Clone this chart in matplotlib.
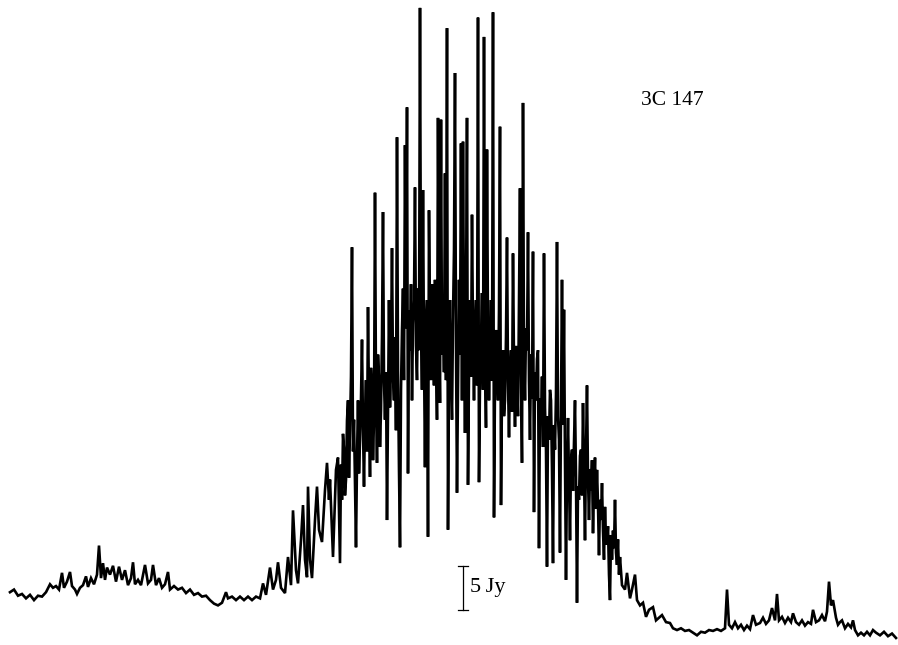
import numpy as np
import matplotlib
matplotlib.use("Agg")
import matplotlib.pyplot as plt

# drift scan of 3C 147
# t : time along the scan (arbitrary units), flux : deflection in Jy

# rising side, before the fringes get large
t_left = [10, 14, 18, 22, 26, 30, 34, 38, 42, 46, 50, 53, 56, 59, 62, 64, 67, 70, 72, 75,
          77, 80, 83, 86, 88, 91, 94, 97, 99, 101, 103, 105, 107, 110, 113, 116, 119, 122, 125, 128,
          131, 133, 135, 138, 141, 145, 148, 151, 153, 156, 159, 162, 165, 168, 170, 174, 178, 182, 186, 190,
          194, 198, 202, 206, 210, 214, 218, 222, 226, 228, 232, 236, 240, 244, 248, 252, 256, 260, 263, 266,
          270, 273, 276, 278, 281, 285, 288, 291, 293, 296, 298, 301, 303, 305, 307, 308, 310, 312, 315, 317,
          319, 322, 325, 327, 329, 330, 332, 333, 335, 336, 338]
flux_left = [6.0, 6.3, 5.6, 5.8, 5.3, 5.7, 5.1, 5.6, 5.5, 6.0, 6.9, 6.5, 6.7, 6.3, 8.2, 6.5, 7.2, 8.3, 6.7, 6.3,
             5.8, 6.5, 6.8, 7.8, 6.6, 7.6, 6.9, 8.0, 11.3, 7.6, 9.3, 7.4, 8.8, 8.0, 9.0, 7.2, 8.9, 7.4, 8.5, 6.8,
             7.6, 9.4, 6.9, 7.4, 6.8, 9.1, 7.0, 7.4, 9.1, 6.8, 7.6, 6.5, 6.9, 8.3, 6.3, 6.7, 6.3, 6.5, 5.9, 6.3,
             5.7, 5.9, 5.5, 5.6, 5.1, 4.7, 4.5, 4.8, 6.0, 5.3, 5.5, 5.1, 5.5, 5.1, 5.5, 5.1, 5.5, 5.3, 7.0, 5.7,
             8.8, 6.3, 7.4, 9.4, 6.5, 5.9, 10.0, 6.8, 15.3, 8.5, 7.0, 11.9, 15.9, 9.7, 7.7, 18.0, 9.7, 7.6, 14.2, 18.0,
             13.1, 11.7, 17.6, 20.7, 16.5, 18.8, 13.1, 10.0, 16.5, 19.9, 21.3]

# main lobe, one reading per time step
t_core = list(range(340, 621))
flux_core = [9.3, 20.5, 16.5, 24.0, 22.2, 17.0, 18.8, 25.5, 27.8, 19.0,
             24.4, 30.5, 45.2, 22.0, 25.6, 18.5, 11.1, 21.0, 27.8, 19.5,
             23.3, 28.0, 34.7, 24.5, 18.0, 26.0, 30.1, 22.0, 38.4, 27.0,
             19.1, 31.5, 29.0, 21.0, 25.6, 51.4, 28.5, 20.7, 33.0, 30.1,
             22.5, 26.7, 35.0, 49.2, 30.0, 25.6, 31.0, 14.2, 27.0, 39.2,
             27.0, 33.0, 45.1, 30.5, 27.8, 35.0, 24.4, 57.7, 31.0, 19.9,
             11.1, 29.0, 35.8, 40.5, 30.1, 56.8, 36.0, 61.1, 19.5, 38.0,
             33.5, 41.0, 27.8, 36.5, 39.2, 52.0, 34.0, 30.1, 40.5, 33.5,
             72.4, 37.0, 29.0, 51.7, 33.0, 20.2, 36.0, 39.2, 12.3, 49.4,
             35.5, 30.1, 41.0, 35.8, 29.5, 41.5, 34.0, 25.6, 59.9, 36.5,
             27.5, 59.7, 33.0, 39.2, 31.0, 53.6, 30.1, 70.1, 13.1, 33.0,
             39.2, 30.5, 25.6, 37.0, 44.9, 65.0, 34.0, 17.3, 30.0, 41.5,
             33.0, 57.0, 27.8, 57.2, 36.0, 24.1, 38.5, 59.9, 18.2, 31.0,
             39.2, 30.5, 48.9, 35.0, 27.8, 36.0, 39.2, 29.5, 71.3, 18.5,
             30.0, 34.7, 40.0, 29.0, 69.1, 33.0, 24.7, 56.3, 35.0, 27.8,
             33.5, 39.2, 30.0, 71.9, 14.5, 30.0, 35.8, 31.5, 27.8, 38.0,
             58.9, 15.9, 29.0, 33.5, 26.0, 27.8, 35.0, 46.3, 30.0, 23.6,
             31.0, 33.5, 26.5, 44.5, 32.0, 24.8, 34.0, 30.1, 26.0, 39.2,
             51.9, 31.0, 20.7, 61.6, 33.0, 27.8, 36.0, 33.5, 46.9, 30.0,
             23.3, 33.0, 28.0, 44.7, 15.1, 31.0, 27.8, 32.5, 33.5, 11.0,
             28.0, 25.6, 30.5, 22.5, 44.5, 27.0, 22.2, 8.9, 26.0, 23.3,
             29.0, 27.8, 20.0, 9.3, 25.0, 22.2, 28.5, 45.8, 26.0, 23.3,
             10.5, 27.0, 41.5, 25.0, 38.1, 21.0, 7.4, 20.0, 25.8, 19.0,
             11.9, 21.0, 22.2, 17.5, 23.0, 27.8, 19.0, 4.8, 18.0, 16.5,
             21.5, 22.2, 17.0, 27.5, 20.0, 11.9, 22.0, 29.5, 19.0, 14.2,
             20.0, 17.6, 21.0, 12.7, 18.0, 21.3, 15.5, 19.9, 16.0, 10.2,
             16.5, 14.2, 18.4, 13.0, 9.7, 15.7, 12.0, 11.4, 13.5, 8.0,
             5.1, 12.5, 9.7, 13.0, 11.0, 16.5, 10.5, 9.1, 12.0, 8.0,
             10.0]

# falling side and baseline
t_right = [622, 625, 627, 630, 632, 635, 637, 640, 643, 646, 649, 653, 656, 659, 662,
           666, 670, 673, 677, 681, 685, 689, 693, 697, 701, 705, 709, 713, 717, 721, 725, 727, 729, 732, 735,
           738, 741, 744, 747, 750, 753, 756, 760, 763, 766, 769, 772, 775, 777, 779, 782, 785, 788, 791, 793,
           796, 799, 802, 805, 808, 811, 813, 816, 819, 822, 825, 827, 829, 831, 833, 836, 838, 840, 842, 845,
           848, 851, 853, 855, 858, 861, 864, 867, 870, 873, 876, 880, 884, 888, 892, 896]
flux_right = [6.8, 6.3, 8.2, 5.3, 6.3, 8.0, 5.1, 4.5, 4.8, 3.2, 4.0, 4.3, 2.8, 3.1, 3.4,
              2.6, 2.5, 1.9, 1.7, 1.9, 1.6, 1.7, 1.4, 1.1, 1.5, 1.4, 1.7, 1.6, 1.8, 1.6, 1.9, 6.3, 2.3, 1.9, 2.6,
              1.9, 2.3, 1.7, 2.2, 1.8, 3.4, 2.3, 2.5, 3.1, 2.4, 2.8, 4.2, 2.8, 5.8, 2.8, 3.2, 2.5, 3.1, 2.6, 3.6,
              2.6, 2.3, 2.8, 2.2, 2.6, 2.4, 4.0, 2.6, 2.8, 3.4, 2.7, 3.8, 7.2, 4.5, 5.1, 3.1, 2.3, 2.6, 2.8, 1.9,
              2.4, 2.0, 2.8, 1.7, 1.1, 1.4, 1.1, 1.5, 1.1, 1.7, 1.4, 1.1, 1.5, 1.0, 1.3, 0.8]

source = "3C 147"
bar_jy = 5          # length of the calibration bar
bar_t = 463         # where the bar sits along the scan
bar_base = 4.0      # bottom of the bar, Jy

t = t_left + t_core + t_right
flux = flux_left + flux_core + flux_right

fig = plt.figure(figsize=(8.98, 6.45), dpi=100)
ax = fig.add_axes([0, 0, 1, 1])

ax.plot(t, flux, color="black", lw=1.9, solid_joinstyle="miter")

# calibration bar
ax.plot([bar_t, bar_t], [bar_base, bar_base + bar_jy], color="black", lw=0.9)
ax.plot([bar_t - 5, bar_t + 5], [bar_base, bar_base], color="black", lw=0.9)
ax.plot([bar_t - 5, bar_t + 5], [bar_base + bar_jy, bar_base + bar_jy], color="black", lw=0.9)
ax.text(bar_t + 7, bar_base + bar_jy / 2, "%d\u2009Jy" % bar_jy, family=["Liberation Serif", "DejaVu Serif"],
        fontsize=16, va="center", ha="left")

ax.text(641, 61.9, source, family="Liberation Serif", fontsize=15.5, va="center", ha="left")

ax.set_xlim(0, 898)
ax.set_ylim(0, 645 / 8.8)
ax.axis("off")

fig.savefig("out.png", dpi=100, facecolor="white")
